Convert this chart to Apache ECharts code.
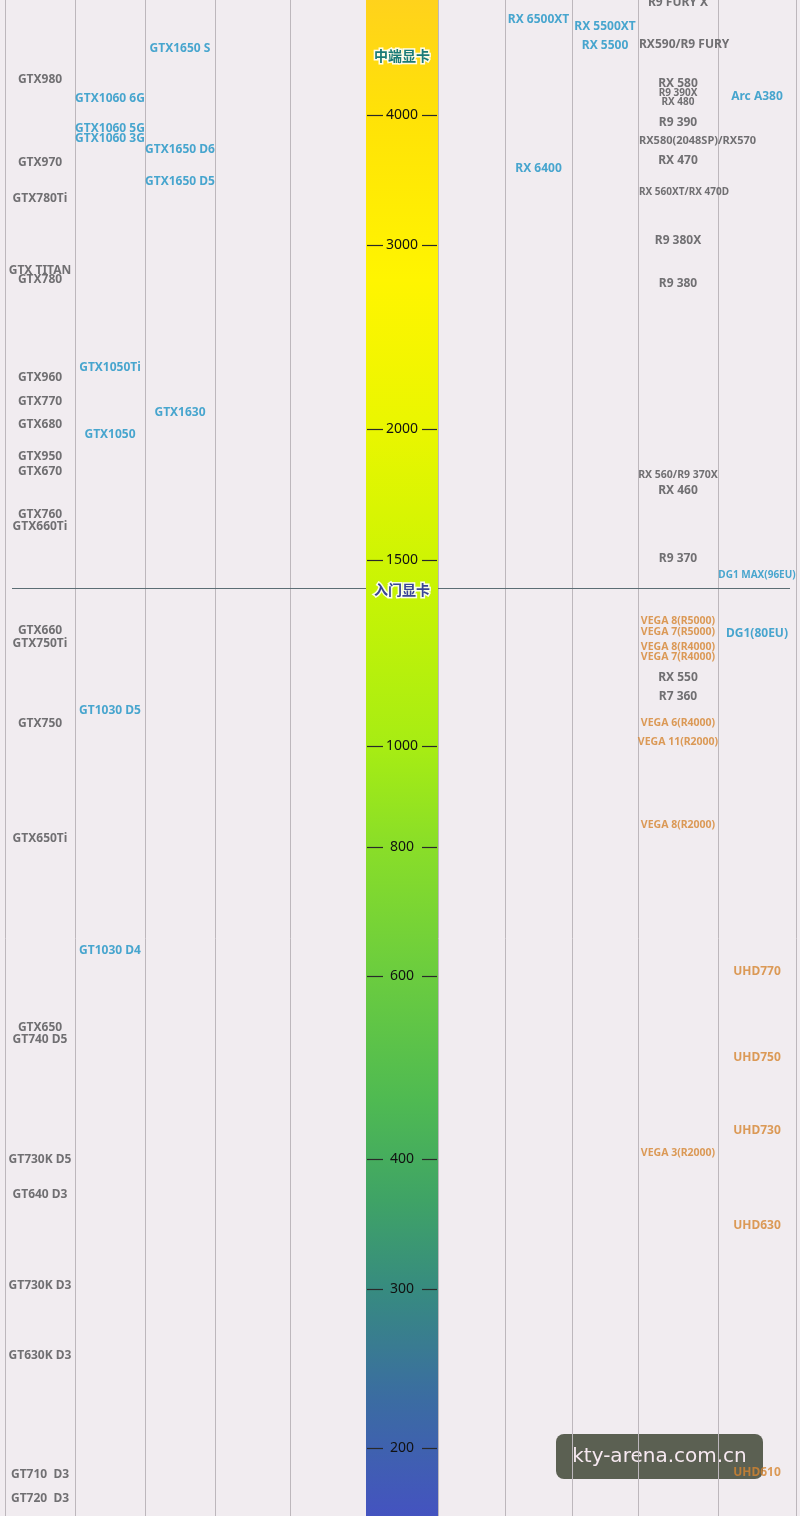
<!DOCTYPE html>
<html>
<head>
<meta charset="utf-8">
<script src="https://cdn.jsdelivr.net/npm/echarts@6/dist/echarts.min.js"></script>
<style>
html,body{margin:0;padding:0;background:#f1ecf0;}
#chart{width:800px;height:1516px;}
</style>
</head>
<body>
<div id="chart"></div>
<script>
// ------------------------- DATA -------------------------
const columns = ['GeForce 900/700/600', 'GeForce 10', 'GeForce 16', 'GeForce 20', 'GeForce 30', '性能分',
                 'Radeon RX 7000', 'Radeon RX 6000', 'Radeon RX 5000', 'Radeon 500/400/300 · Vega', 'Intel'];
const axisTicks = [4000, 3000, 2000, 1500, 1000, 800, 600, 400, 300, 200];
const tierTitles = [['中端显卡', 4560], ['入门显卡', 1410]];
const tierBoundary = 1410;

const geforceOld = [
  ['GTX980', 4325], ['GTX970', 3604], ['GTX780Ti', 3327], ['GTX TITAN', 2841], ['GTX780', 2785],
  ['GTX960', 2242], ['GTX770', 2126], ['GTX680', 2023], ['GTX950', 1884], ['GTX670', 1823],
  ['GTX760', 1656], ['GTX660Ti', 1613], ['GTX660', 1292], ['GTX750Ti', 1255], ['GTX750', 1051],
  ['GTX650Ti', 815], ['GTX650', 536], ['GT740 D5', 522], ['GT730K D5', 400], ['GT640 D3', 370],
  ['GT730K D3', 302], ['GT630K D3', 253], ['GT710  D3', 187], ['GT720  D3', 176]
];
const geforce10 = [
  ['GTX1060 6G', 4148], ['GTX1060 5G', 3886], ['GTX1060 3G', 3796], ['GTX1050Ti', 2293],
  ['GTX1050', 1979], ['GT1030 D5', 1081], ['GT1030 D4', 635]
];
const geforce16 = [['GTX1650 S', 4630], ['GTX1650 D6', 3708], ['GTX1650 D5', 3457], ['GTX1630', 2077]];
const radeon6000 = [['RX 6500XT', 4932], ['RX 6400', 3555]];
const radeon5000 = [['RX 5500XT', 4858], ['RX 5500', 4659]];
const radeonOld = [
  ['R9 FURY X', 5122], ['RX590/R9 FURY', 4670], ['RX 580', 4283], ['R9 390X', 4193], ['RX 480', 4113],
  ['R9 390', 3937], ['RX580(2048SP)/RX570', 3779], ['RX 470', 3621], ['RX 560XT/RX 470D', 3376],
  ['R9 380X', 3030], ['R9 380', 2757], ['RX 560/R9 370X', 1809], ['RX 460', 1749], ['R9 370', 1506],
  ['RX 550', 1165], ['R7 360', 1117]
];
const radeonVega = [
  ['VEGA 8(R5000)', 1320], ['VEGA 7(R5000)', 1287], ['VEGA 8(R4000)', 1247], ['VEGA 7(R4000)', 1218],
  ['VEGA 6(R4000)', 1053], ['VEGA 11(R2000)', 1009], ['VEGA 8(R2000)', 840], ['VEGA 3(R2000)', 406]
];
const intelArc = [['Arc A380', 4170], ['DG1 MAX(96EU)', 1451], ['DG1(80EU)', 1283]];
const intelUhd = [['UHD770', 607], ['UHD750', 501], ['UHD730', 426], ['UHD630', 345], ['UHD610', 188]];

// ------------------------- LAYOUT / STYLE -------------------------
const columnWidths = [70, 70, 70, 75, 76, 72, 67, 67, 66, 80, 78];
const colEdges = columnWidths.reduce((a, w) => { a.push(a[a.length - 1] + w); return a; }, [0]);
const colCenter = i => (colEdges[i] + colEdges[i + 1]) / 2;
const AXIS_COL = 5;
// the drawn scale is piecewise logarithmic: one log axis per vertical segment
const segments = [
  { top: 0,    height: 588, min: 1410,  max: 5154 },
  { top: 588,  height: 701, min: 300,   max: 1420 },
  { top: 1289, height: 227, min: 168.2, max: 300 }
];
const segOf = v => { for (let i = 0; i < segments.length; i++) if (v >= segments[i].min) return i; return segments.length - 1; };
const SEG_IDS = segments.map((s, i) => i);

const FONT = "'Noto Sans', 'Noto Sans CJK SC', sans-serif";
const GREY = '#505052', BLUE = '#1d94c5', ORANGE = '#d6842f';
const labelSize = {
  'R9 390X': 10, 'RX 480': 10, 'RX580(2048SP)/RX570': 11, 'RX 560XT/RX 470D': 10,
  'RX 560/R9 370X': 10.5, 'DG1 MAX(96EU)': 10
};
const gradientStops = [
  [0, '#ffd21c'], [0.076, '#ffe207'], [0.185, '#fff500'], [0.285, '#e9f600'], [0.389, '#c8f404'],
  [0.495, '#a6ec14'], [0.557, '#8ade28'], [0.64, '#6ccd3e'], [0.726, '#4fba52'], [0.792, '#3fa366'],
  [0.851, '#378b80'], [0.923, '#3b6ca2'], [1, '#4453c0']
].map(s => ({ offset: s[0], color: s[1] }));

const measureCtx = document.createElement('canvas').getContext('2d');
function textWidth(text, size) {
  measureCtx.font = 'bold ' + size + 'px ' + FONT;
  return measureCtx.measureText(text).width;
}

function labelSeries(list, col, color, baseSize) {
  const colW = columnWidths[col];
  return SEG_IDS.map(g => ({
    type: 'scatter', xAxisIndex: g, yAxisIndex: g, z: 6, silent: true,
    symbolSize: 1, itemStyle: { color: 'rgba(0,0,0,0)' },
    label: {
      show: true, position: 'inside', formatter: '{b}', color: color,
      fontFamily: FONT, fontWeight: 'bold', fontSize: baseSize
    },
    data: list.filter(d => segOf(d[1]) === g).map(d => {
      const item = { name: d[0], value: [colCenter(col), d[1]] };
      const size = labelSize[d[0]] || baseSize;
      const w = textWidth(d[0], size);
      // labels clearly wider than their column start at the column's left edge
      const dx = w > colW + 2 ? (w - colW) / 2 + 1 : 0;
      if (size !== baseSize || dx) item.label = { fontSize: size, offset: [dx, 0] };
      return item;
    })
  }));
}

function columnLines(g) {
  return {
    type: 'custom', xAxisIndex: g, yAxisIndex: g, z: 1, silent: true,
    data: colEdges.map(e => [e, segments[g].min]),
    renderItem(params, api) {
      const cs = params.coordSys;
      const x = Math.round(api.coord([api.value(0), api.value(1)])[0]) + 0.5;
      return { type: 'line', shape: { x1: x, y1: cs.y, x2: x, y2: cs.y + cs.height },
               style: { stroke: '#bdb7bc', lineWidth: 1 } };
    }
  };
}

function gradientBar(g) {
  return {
    type: 'custom', xAxisIndex: g, yAxisIndex: g, z: 2, silent: true,
    data: [[colEdges[AXIS_COL], colEdges[AXIS_COL + 1], segments[g].min]],
    renderItem(params, api) {
      const cs = params.coordSys;
      const x0 = api.coord([api.value(0), api.value(2)])[0];
      const x1 = api.coord([api.value(1), api.value(2)])[0];
      return { type: 'rect', shape: { x: x0, y: cs.y, width: x1 - x0, height: cs.height },
               style: { fill: new echarts.graphic.LinearGradient(0, 0, 0, api.getHeight(), gradientStops, true) } };
    }
  };
}

function tickSeries(g) {
  return {
    type: 'custom', xAxisIndex: g, yAxisIndex: g, z: 3, silent: true,
    data: axisTicks.filter(v => segOf(v) === g).map(v => [colCenter(AXIS_COL), v]),
    renderItem(params, api) {
      const p = api.coord([api.value(0), api.value(1)]);
      const x0 = api.coord([colEdges[AXIS_COL], api.value(1)])[0];
      const x1 = api.coord([colEdges[AXIS_COL + 1], api.value(1)])[0];
      const y = Math.round(p[1]) + 0.5;
      return { type: 'group', children: [
        { type: 'line', shape: { x1: x0 + 1, y1: y, x2: x0 + 17, y2: y }, style: { stroke: '#2a2a2a', lineWidth: 1.2 } },
        { type: 'line', shape: { x1: x1 - 16, y1: y, x2: x1 - 1, y2: y }, style: { stroke: '#2a2a2a', lineWidth: 1.2 } },
        { type: 'text', x: p[0], y: p[1], style: { text: String(api.value(1)), fill: '#111111',
          font: '14px ' + FONT, align: 'center', verticalAlign: 'middle' } }
      ] };
    }
  };
}

const dividerSeries = {
  type: 'custom', xAxisIndex: 0, yAxisIndex: 0, z: 1, silent: true,
  data: [[0, tierBoundary]],
  renderItem(params, api) {
    const cs = params.coordSys;
    const y = Math.round(api.coord([api.value(0), api.value(1)])[1]) + 0.5;
    return { type: 'line', shape: { x1: cs.x + 7, y1: y, x2: cs.x + cs.width - 6, y2: y },
             style: { stroke: '#5b6d74', lineWidth: 1 } };
  }
};

const tierTitleSeries = {
  type: 'custom', xAxisIndex: 0, yAxisIndex: 0, z: 4, silent: true,
  data: tierTitles.map((t, i) => [colCenter(AXIS_COL), t[1], i]),
  renderItem(params, api) {
    const p = api.coord([api.value(0), api.value(1)]);
    const i = api.value(2);
    return { type: 'text', x: p[0], y: p[1] + (i === 1 ? 2 : 0), style: {
      text: tierTitles[i][0], fill: i === 0 ? '#1b7b78' : '#3a4597',
      font: "bold 14px 'Noto Sans CJK SC', sans-serif", align: 'center', verticalAlign: 'middle',
      stroke: 'rgba(255,255,255,0.9)', lineWidth: 3 } };
  }
};

const chart = echarts.init(document.getElementById('chart'), null, { renderer: 'canvas' });
chart.setOption({
  animation: false,
  backgroundColor: '#f1ecf0',
  grid: segments.map(s => ({ left: 5, right: 4, top: s.top, height: s.height })),
  xAxis: SEG_IDS.map(g => ({ type: 'value', gridIndex: g, min: 0, max: colEdges[colEdges.length - 1], show: false })),
  yAxis: segments.map((s, g) => ({ type: 'log', logBase: 10, gridIndex: g, min: s.min, max: s.max, show: false })),
  graphic: [{
    type: 'group', right: 37, bottom: 37, z: 100,
    children: [
      { type: 'rect', shape: { x: 0, y: 0, width: 207, height: 45, r: 8 }, style: { fill: 'rgba(78,84,68,0.92)' } },
      { type: 'text', x: 103.5, y: 22.5, style: { text: 'kty-arena.com.cn', fill: '#f7e9f1',
        font: "20px 'DejaVu Sans', sans-serif", align: 'center', verticalAlign: 'middle' } }
    ]
  }],
  series: [
    ...SEG_IDS.map(columnLines), dividerSeries,
    ...SEG_IDS.map(gradientBar),
    ...SEG_IDS.map(tickSeries), tierTitleSeries,
    ...labelSeries(geforceOld, 0, GREY, 12),
    ...labelSeries(geforce10, 1, BLUE, 12),
    ...labelSeries(geforce16, 2, BLUE, 12),
    ...labelSeries(radeon6000, 7, BLUE, 12),
    ...labelSeries(radeon5000, 8, BLUE, 12),
    ...labelSeries(radeonOld, 9, GREY, 12),
    ...labelSeries(radeonVega, 9, ORANGE, 10.5),
    ...labelSeries(intelArc, 10, BLUE, 12),
    ...labelSeries(intelUhd, 10, ORANGE, 12)
  ]
});
</script>
</body>
</html>
